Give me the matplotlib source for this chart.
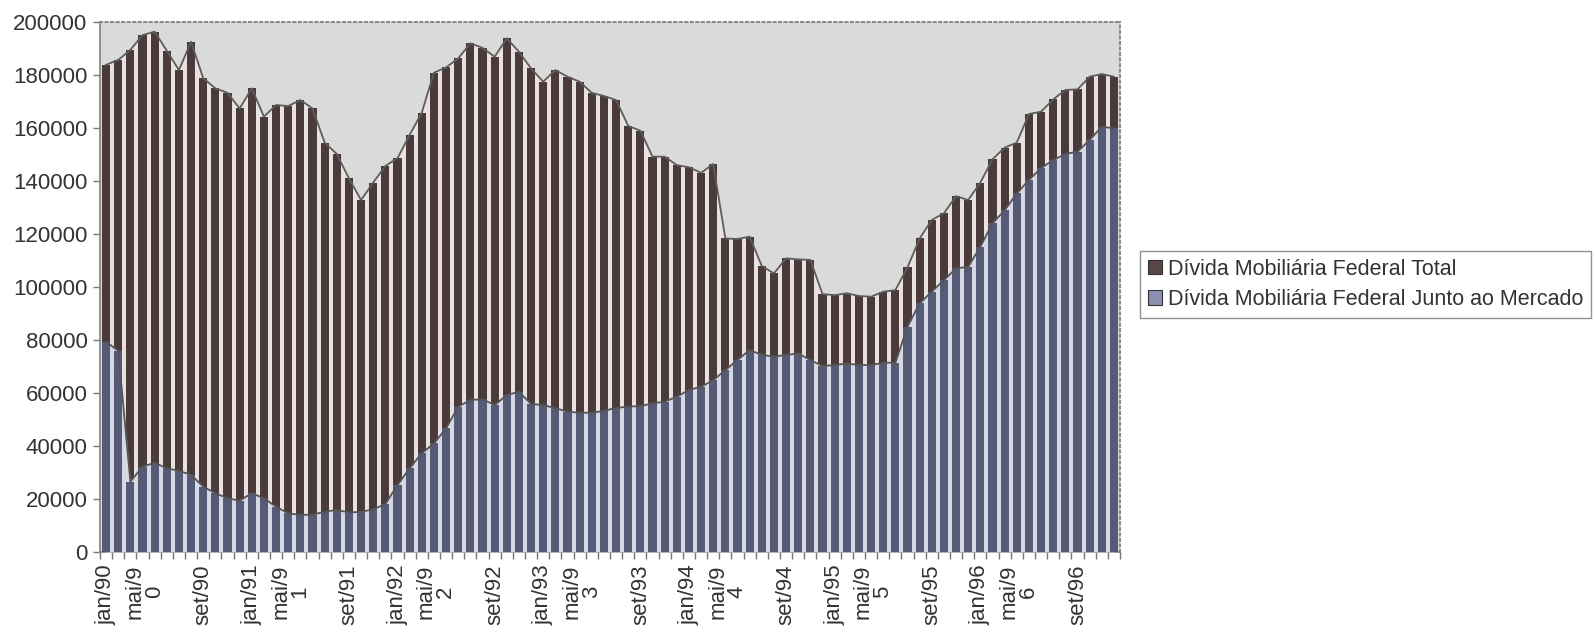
import matplotlib
matplotlib.use("Agg")
import matplotlib.pyplot as plt
import matplotlib.transforms as mtransforms
from matplotlib.patches import Patch
import numpy as np

plt.rcParams['font.family'] = ['Liberation Sans', 'DejaVu Sans']

meses = ['jan', 'fev', 'mar', 'abr', 'mai', 'jun', 'jul', 'ago', 'set', 'out', 'nov', 'dez']
anos = ['90', '91', '92', '93', '94', '95', '96']
categorias = [f"{m}/{a}" for a in anos for m in meses]

# Dívida Mobiliária Federal Total (R$ milhões), jan/90 .. dez/96
total = [184.0, 185.8, 189.6, 195.2, 196.5, 189.3, 182.0, 192.7, 178.9, 175.1, 173.4, 167.5,
         175.1, 164.4, 168.8, 168.4, 170.7, 167.5, 154.6, 150.3, 141.1, 132.9, 139.5, 145.8,
         148.7, 157.5, 165.9, 181.0, 183.0, 186.4, 192.1, 190.4, 187.0, 194.0, 188.9, 182.6,
         177.6, 182.0, 179.5, 177.6, 173.4, 172.2, 170.7, 160.9, 159.1, 149.3, 149.3, 146.1,
         145.3, 143.2, 146.5, 118.4, 118.2, 119.1, 108.0, 105.2, 110.9, 110.5, 110.3, 97.4,
         97.0, 97.7, 96.7, 96.4, 98.3, 98.9, 107.5, 118.4, 125.4, 127.9, 134.4, 132.9,
         139.5, 148.3, 152.7, 154.6, 165.4, 166.3, 170.9, 174.5, 174.7, 179.5, 180.5, 179.5]
total = [v * 1000 for v in total]

# Dívida Mobiliária Federal Junto ao Mercado
mercado = [79.4, 76.0, 26.6, 32.2, 33.7, 31.6, 30.7, 29.1, 24.7, 22.2, 20.3, 19.4,
           22.2, 20.3, 17.1, 14.6, 14.0, 14.1, 15.2, 15.9, 14.9, 15.2, 16.1, 18.1,
           25.3, 31.6, 37.3, 41.0, 46.7, 54.9, 57.4, 57.7, 55.5, 59.3, 60.5, 55.9,
           55.5, 54.3, 53.0, 52.6, 52.6, 53.3, 54.4, 54.9, 55.1, 56.1, 56.8, 58.6,
           61.2, 62.4, 64.9, 68.7, 72.5, 76.3, 74.4, 73.8, 74.4, 75.0, 72.5, 70.2,
           70.6, 71.2, 70.6, 70.6, 71.5, 71.5, 85.1, 93.9, 98.3, 102.7, 107.1, 107.7,
           115.3, 124.1, 129.1, 135.4, 140.5, 145.0, 148.0, 150.3, 151.2, 155.6, 160.6, 160.0]
mercado = [v * 1000 for v in mercado]

# tick labels every 4 months (as in the original, "mai" labels wrapped)
rotulos = []
for c in categorias[::4]:
    if c.startswith('mai'):
        rotulos.append(c[:-1] + "\n" + c[-1])
    else:
        rotulos.append(c)

serie_total = "Dívida Mobiliária Federal Total"
serie_mercado = "Dívida Mobiliária Federal Junto ao Mercado"

W, H = 1595, 632
fig = plt.figure(figsize=(W / 100, H / 100), dpi=100)
ax = fig.add_axes([100 / W, 1 - 552 / H, (1120 - 100) / W, (552 - 22.4) / H])

x = np.arange(len(categorias))
ax.set_facecolor('#dadada')

ax.fill_between(x, total, color='#e9e1e1', lw=0, zorder=1)
ax.bar(x, total, width=0.66, color='#4a3a3a', lw=0, zorder=2)
ax.fill_between(x, mercado, color='#d6d8e4', lw=0, zorder=3)
ax.bar(x, mercado, width=0.66, color='#555a76', lw=0, zorder=4)
ax.plot(x, total, color='#5c5c5c', lw=1.3, zorder=5)
ax.plot(x, mercado, color='#555555', lw=1.3, zorder=6)

ax.set_xlim(-0.5, len(categorias) - 0.5)
ax.set_ylim(0, 200000)
ax.set_yticks(np.arange(0, 200001, 20000))
ax.tick_params(axis='y', length=5, width=1, color='#777777', labelsize=16,
               labelcolor='#333333', pad=4)

ax.set_xticks(x[::4])
ax.set_xticklabels(rotulos, rotation=90, fontsize=16, color='#333333',
                   linespacing=0.9, va='top', ha='center', multialignment='center')
ax.set_xticks(np.arange(-0.5, len(categorias), 1), minor=True)
ax.tick_params(axis='x', which='major', length=0, pad=9)
ax.tick_params(axis='x', which='minor', length=5, width=1, color='#777777')

for lbl in ax.get_xticklabels():
    if "\n" in lbl.get_text():
        lbl.set_transform(lbl.get_transform() +
                          mtransforms.ScaledTranslation(-10 / 100, 0, fig.dpi_scale_trans))

for s in ['left', 'bottom']:
    ax.spines[s].set_color('#808080')
    ax.spines[s].set_linewidth(1.2)
for s in ['top', 'right']:
    ax.spines[s].set_color('#8a8a8a')
    ax.spines[s].set_linewidth(1.5)
    ax.spines[s].set_linestyle(':')

handles = [Patch(facecolor='#5a4646', edgecolor='#333333', lw=0.8, label=serie_total),
           Patch(facecolor='#8c90b0', edgecolor='#333333', lw=0.8, label=serie_mercado)]
leg = fig.legend(handles=handles, loc='upper left',
                 bbox_to_anchor=(1140 / W, 1 - 251 / H), fontsize=15.5,
                 frameon=True, fancybox=False, edgecolor='#777777',
                 handlelength=0.65, handleheight=0.65, handletextpad=0.3,
                 borderpad=0.35, labelspacing=0.45, borderaxespad=0)
leg.get_frame().set_linewidth(1.0)
for t in leg.get_texts():
    t.set_color('#333333')

fig.savefig('out.png', dpi=100)
